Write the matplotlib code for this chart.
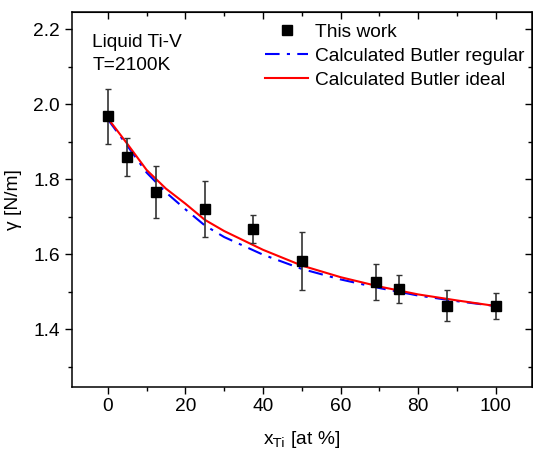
import matplotlib
matplotlib.use("Agg")
import matplotlib.pyplot as plt
from matplotlib.ticker import MultipleLocator
from matplotlib.lines import Line2D

plt.rcParams['font.family'] = ['Liberation Sans', 'DejaVu Sans']
plt.rcParams['font.size'] = 13.8

# measured surface tension (this work)
x_meas = [0, 5, 12.5, 25, 37.5, 50, 69, 75, 87.5, 100]
g_meas = [1.968, 1.860, 1.766, 1.721, 1.668, 1.582, 1.526, 1.508, 1.463, 1.463]
g_err = [0.073, 0.050, 0.070, 0.075, 0.037, 0.078, 0.048, 0.037, 0.042, 0.035]

# Butler model curves
x_calc = [0, 5, 10, 15, 20, 25, 30, 40, 50, 60, 70, 80, 90, 100]
g_ideal = [1.963, 1.895, 1.825, 1.775, 1.735, 1.692, 1.662, 1.612, 1.570, 1.539,
           1.514, 1.493, 1.477, 1.462]
g_regular = [1.960, 1.890, 1.818, 1.765, 1.720, 1.677, 1.646, 1.599, 1.561, 1.533,
             1.510, 1.490, 1.475, 1.462]

fig = plt.figure(figsize=(5.33, 4.53), dpi=100)
ax = fig.add_axes([0.1345, 0.1464, 0.8635, 0.8278])

ax.errorbar(x_meas, g_meas, yerr=g_err, fmt='s', color='black', ms=6.5,
            ecolor='#333333', elinewidth=1.2, capsize=2.5, capthick=1.0, zorder=3)
ax.plot(x_calc, g_regular, color='blue', lw=1.5, dashes=(7, 3.5, 1.5, 3.5), zorder=2)
ax.plot(x_calc, g_ideal, color='red', lw=1.5, zorder=2)

ax.set_xlim(-9.3, 109.3)
ax.set_ylim(1.247, 2.247)
ax.xaxis.set_major_locator(MultipleLocator(20))
ax.xaxis.set_minor_locator(MultipleLocator(10))
ax.yaxis.set_major_locator(MultipleLocator(0.2))
ax.yaxis.set_minor_locator(MultipleLocator(0.1))
ax.yaxis.set_major_formatter(plt.FormatStrFormatter('%.1f'))

ax.tick_params(which='both', direction='out', top=False, right=False, width=1)
ax.tick_params(which='major', length=5)
ax.tick_params(which='minor', length=3)
# mirrored inward ticks on top/right
ax2 = ax.secondary_xaxis('top')
ax2.xaxis.set_major_locator(MultipleLocator(20))
ax2.xaxis.set_minor_locator(MultipleLocator(10))
ax2.tick_params(which='both', direction='in', labeltop=False, width=1)
ax2.tick_params(which='major', length=5)
ax2.tick_params(which='minor', length=3)
ay2 = ax.secondary_yaxis('right')
ay2.yaxis.set_major_locator(MultipleLocator(0.2))
ay2.yaxis.set_minor_locator(MultipleLocator(0.1))
ay2.tick_params(which='both', direction='in', labelright=False, width=1)
ay2.tick_params(which='major', length=5)
ay2.tick_params(which='minor', length=3)

for s in ax.spines.values():
    s.set_linewidth(1.1)

ax.set_xlabel(r'x$_{\mathrm{Ti}}$ [at %]', labelpad=10)
ax.set_ylabel('γ [N/m]', labelpad=8)

ax.text(0.045, 0.94, 'Liquid Ti-V\nT=2100K', transform=ax.transAxes,
        va='top', ha='left', linespacing=1.45)

handles = [
    Line2D([], [], ls='none', marker='s', ms=6.5, color='black'),
    Line2D([], [], color='blue', lw=1.5, dashes=(7, 3.5, 1.5, 3.5)),
    Line2D([], [], color='red', lw=1.5),
]
labels = ['This work', 'Calculated Butler regular', 'Calculated Butler ideal']
ax.legend(handles, labels, loc='upper left', bbox_to_anchor=(0.421, 0.968),
          frameon=False, borderpad=0, borderaxespad=0, handlelength=2.2,
          handletextpad=0.4, labelspacing=0.33, numpoints=1)

fig.savefig('out.png', dpi=100)
